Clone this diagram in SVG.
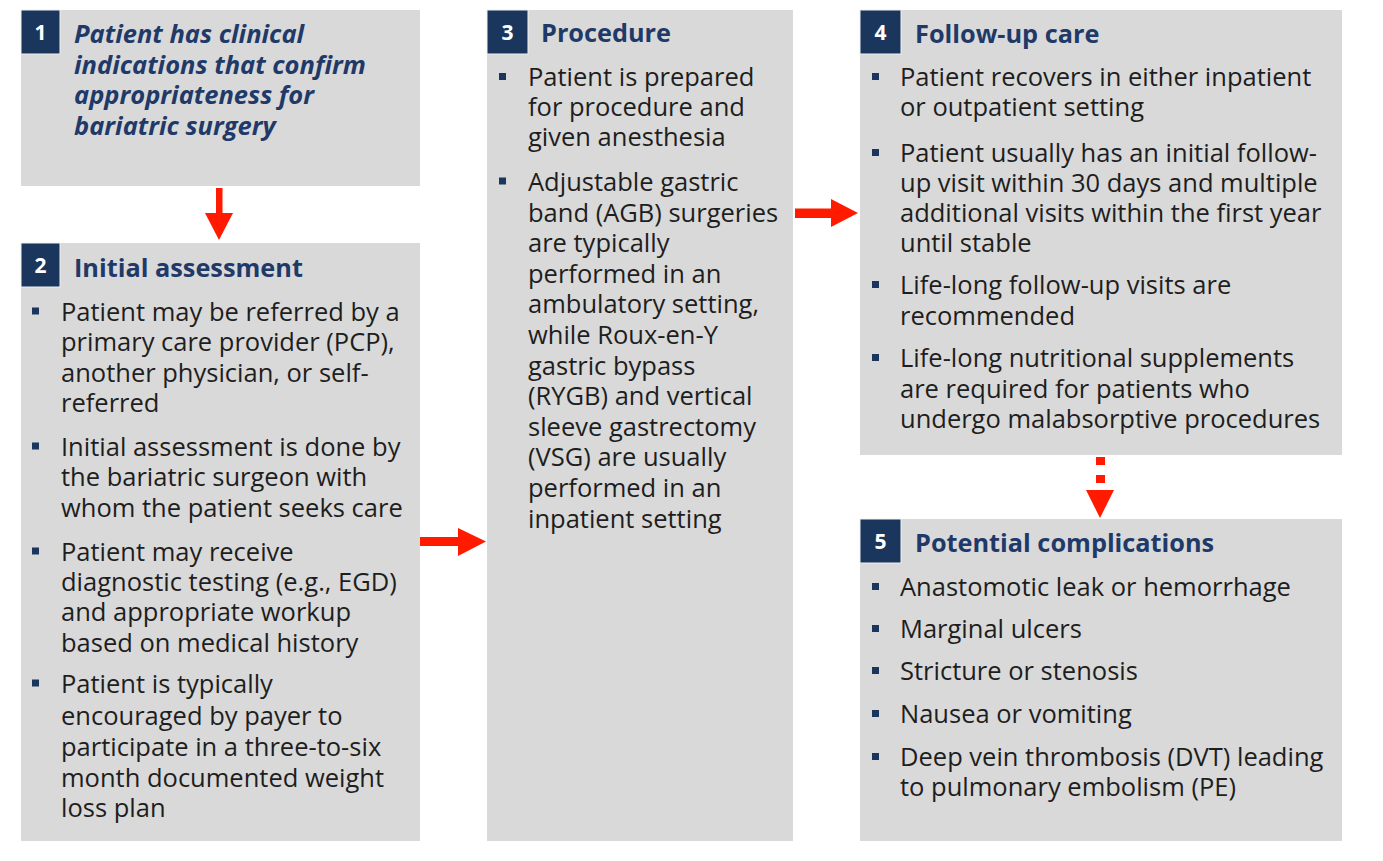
<svg xmlns="http://www.w3.org/2000/svg" width="1383" height="861" viewBox="0 0 1383 861">
<style>
.box{fill:#d9d9d9}
.badge{fill:#1b365d;stroke:#f0f0f0;stroke-width:1}
.num{font-family:"Open Sans","Noto Sans",sans-serif;font-weight:700;font-size:21px;fill:#ffffff;text-anchor:middle}
.title{font-family:"Open Sans","Noto Sans",sans-serif;font-weight:700;font-size:25.3px;fill:#1f3a68}
.lead{font-family:"Open Sans","Noto Sans",sans-serif;font-weight:700;font-style:italic;font-size:25.5px;fill:#1f3a68}
.body{font-family:"Open Sans","Noto Sans",sans-serif;font-size:25.5px;fill:#1e1e1e}
.bul{fill:#1b365d}
.arrow{fill:#ff1a00}
</style>
<rect width="1383" height="861" fill="#ffffff"/>

<g id="connectors">
  <rect class="arrow" x="216" y="188" width="6.5" height="26"/>
  <polygon class="arrow" points="205,213 233,213 219,240"/>
  <rect class="arrow" x="420" y="537" width="39" height="9"/>
  <polygon class="arrow" points="458,528 458,556 486,541.5"/>
  <rect class="arrow" x="795" y="208.5" width="37" height="9.5"/>
  <polygon class="arrow" points="831,199 831,227 858,213"/>
  <rect class="arrow" x="1096" y="457" width="9" height="8"/>
  <rect class="arrow" x="1096" y="475" width="9" height="8"/>
  <polygon class="arrow" points="1086,490 1114,490 1100,518"/>
</g>

<g id="node1">
  <rect class="box" x="21" y="10" width="399" height="176"/>
  <rect class="badge" x="21" y="10" width="39" height="44"/>
  <text class="num" x="40.5" y="39.5">1</text>
  <text class="lead" x="74">
    <tspan x="74" y="43">Patient has clinical</tspan>
    <tspan x="74" y="73.5">indications that confirm</tspan>
    <tspan x="74" y="104.3">appropriateness for</tspan>
    <tspan x="74" y="135">bariatric surgery</tspan>
  </text>
</g>

<g id="node2">
  <rect class="box" x="21" y="243" width="399" height="598"/>
  <rect class="badge" x="21" y="243" width="39" height="44"/>
  <text class="num" x="40.5" y="273">2</text>
  <text class="title" x="74" y="277">Initial assessment</text>
  <rect class="bul" x="32" y="307.5" width="7" height="7"/>
  <rect class="bul" x="32" y="442.5" width="7" height="7"/>
  <rect class="bul" x="32" y="547.5" width="7" height="7"/>
  <rect class="bul" x="32" y="679.5" width="7" height="7"/>
  <text class="body">
    <tspan x="61" y="321">Patient may be referred by a</tspan>
    <tspan x="61" y="351">primary care provider (PCP),</tspan>
    <tspan x="61" y="382">another physician, or self-</tspan>
    <tspan x="61" y="412">referred</tspan>
    <tspan x="61" y="456">Initial assessment is done by</tspan>
    <tspan x="61" y="486">the bariatric surgeon with</tspan>
    <tspan x="61" y="517">whom the patient seeks care</tspan>
    <tspan x="61" y="561">Patient may receive</tspan>
    <tspan x="61" y="591">diagnostic testing (e.g., EGD)</tspan>
    <tspan x="61" y="621">and appropriate workup</tspan>
    <tspan x="61" y="652">based on medical history</tspan>
    <tspan x="61" y="693">Patient is typically</tspan>
    <tspan x="61" y="725">encouraged by payer to</tspan>
    <tspan x="61" y="756">participate in a three-to-six</tspan>
    <tspan x="61" y="787">month documented weight</tspan>
    <tspan x="61" y="817">loss plan</tspan>
  </text>
</g>

<g id="node3">
  <rect class="box" x="487" y="10" width="306" height="831"/>
  <rect class="badge" x="487" y="10" width="41" height="44"/>
  <text class="num" x="507.5" y="39.5">3</text>
  <text class="title" x="541" y="42">Procedure</text>
  <rect class="bul" x="499" y="73" width="7" height="7"/>
  <rect class="bul" x="499" y="177.5" width="7" height="7"/>
  <text class="body">
    <tspan x="528" y="86">Patient is prepared</tspan>
    <tspan x="528" y="116">for procedure and</tspan>
    <tspan x="528" y="146">given anesthesia</tspan>
    <tspan x="528" y="191">Adjustable gastric</tspan>
    <tspan x="528" y="221.6">band (AGB) surgeries</tspan>
    <tspan x="528" y="252.2">are typically</tspan>
    <tspan x="528" y="282.8">performed in an</tspan>
    <tspan x="528" y="313.4">ambulatory setting,</tspan>
    <tspan x="528" y="344">while Roux-en-Y</tspan>
    <tspan x="528" y="374.6">gastric bypass</tspan>
    <tspan x="528" y="405.2">(RYGB) and vertical</tspan>
    <tspan x="528" y="435.8">sleeve gastrectomy</tspan>
    <tspan x="528" y="466.4">(VSG) are usually</tspan>
    <tspan x="528" y="497">performed in an</tspan>
    <tspan x="528" y="527.6">inpatient setting</tspan>
  </text>
</g>

<g id="node4">
  <rect class="box" x="860" y="10" width="482" height="445"/>
  <rect class="badge" x="860" y="10" width="41" height="44"/>
  <text class="num" x="880.5" y="39.5">4</text>
  <text class="title" x="915" y="43">Follow-up care</text>
  <rect class="bul" x="872" y="73" width="7" height="7"/>
  <rect class="bul" x="872" y="149" width="7" height="7"/>
  <rect class="bul" x="872" y="281" width="7" height="7"/>
  <rect class="bul" x="872" y="354" width="7" height="7"/>
  <text class="body">
    <tspan x="900" y="86">Patient recovers in either inpatient</tspan>
    <tspan x="900" y="116">or outpatient setting</tspan>
    <tspan x="900" y="162">Patient usually has an initial follow-</tspan>
    <tspan x="900" y="192">up visit within 30 days and multiple</tspan>
    <tspan x="900" y="222">additional visits within the first year</tspan>
    <tspan x="900" y="252">until stable</tspan>
    <tspan x="900" y="294">Life-long follow-up visits are</tspan>
    <tspan x="900" y="325">recommended</tspan>
    <tspan x="900" y="367">Life-long nutritional supplements</tspan>
    <tspan x="900" y="398">are required for patients who</tspan>
    <tspan x="900" y="428">undergo malabsorptive procedures</tspan>
  </text>
</g>

<g id="node5">
  <rect class="box" x="860" y="519" width="482" height="322"/>
  <rect class="badge" x="860" y="519" width="41" height="44"/>
  <text class="num" x="880.5" y="548.5">5</text>
  <text class="title" x="915" y="552">Potential complications</text>
  <rect class="bul" x="872" y="583" width="7" height="7"/>
  <rect class="bul" x="872" y="625" width="7" height="7"/>
  <rect class="bul" x="872" y="667" width="7" height="7"/>
  <rect class="bul" x="872" y="710" width="7" height="7"/>
  <rect class="bul" x="872" y="753" width="7" height="7"/>
  <text class="body">
    <tspan x="900" y="596">Anastomotic leak or hemorrhage</tspan>
    <tspan x="900" y="638">Marginal ulcers</tspan>
    <tspan x="900" y="680">Stricture or stenosis</tspan>
    <tspan x="900" y="723">Nausea or vomiting</tspan>
    <tspan x="900" y="766">Deep vein thrombosis (DVT) leading</tspan>
    <tspan x="900" y="796">to pulmonary embolism (PE)</tspan>
  </text>
</g>
</svg>
